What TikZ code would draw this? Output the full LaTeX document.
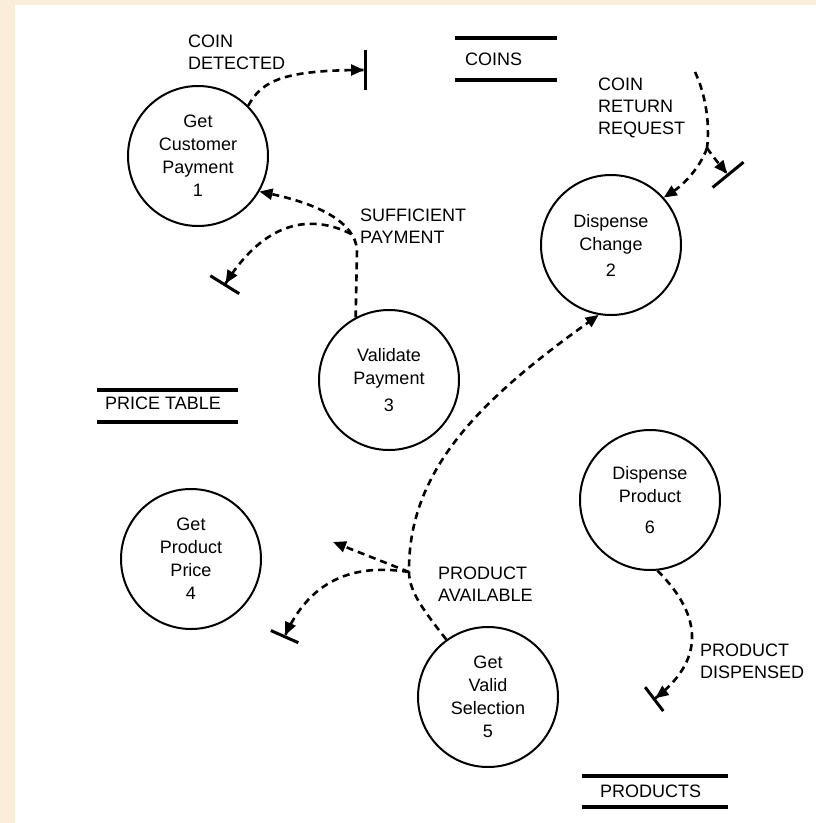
\documentclass[tikz,border=0pt]{standalone}
\usepackage{fontspec}
\setmainfont{Liberation Sans}
\usetikzlibrary{arrows.meta}
\definecolor{paper}{RGB}{250,238,218}
\begin{document}
\begin{tikzpicture}[x=1pt,y=-1pt,
  proc/.style={circle, draw, line width=2pt, minimum size=140pt, inner sep=0pt, align=center, font=\fontsize{18}{23}\selectfont},
  lbl/.style={anchor=west, align=left, inner sep=0pt, font=\fontsize{18}{22}\selectfont},
  conn/.style={line width=2.6pt, dash pattern=on 7pt off 5pt},
  flow/.style={conn, -{Triangle[length=13pt,width=11pt]}},
  flowbar/.style={conn, -{Triangle[length=13pt,width=11pt] Bar[width=#1, line width=3pt]}},
  flowbar/.default=36pt,
  store/.style={line width=3.5pt},
  storetext/.style={anchor=west, inner sep=0pt, font=\fontsize{18}{22}\selectfont}
]
\fill[paper] (0,0) rectangle (816,823);
\fill[white] (15,5) rectangle (816,823);
\useasboundingbox (0,0) rectangle (816,823);

% processes
\node[proc] (c1) at (198,156) {Get\\Customer\\Payment\\1};
\node[proc] (c2) at (611,245) {Dispense\\Change\\[3pt]2};
\node[proc] (c3) at (389,380) {Validate\\Payment\\[4pt]3};
\node[proc] (c4) at (191,559) {Get\\Product\\Price\\4};
\node[proc] (c5) at (488,697) {Get\\Valid\\Selection\\5};
\node[proc] (c6) at (650,500) {Dispense\\Product\\[8pt]6};

% stores
\draw[store] (455,38) -- (557,38);
\draw[store] (455,80) -- (557,80);
\node[storetext] (coins) at (465,59) {COINS};
\draw[store] (97,390) -- (238,390);
\draw[store] (97,422) -- (238,422);
\node[storetext] (price) at (105,403) {PRICE TABLE};
\draw[store] (582,776) -- (728,776);
\draw[store] (582,807) -- (728,807);
\node[storetext] (products) at (600,791) {PRODUCTS};

% coordinates
\coordinate (cd) at (367,70);
\coordinate (j1) at (357,250);
\coordinate (j2) at (351,234);
\coordinate (sp) at (224,286);
\coordinate (cr0) at (695,72);
\coordinate (crj) at (707,148);
\coordinate (cr2) at (729,176);
\coordinate (jp) at (409,572);
\coordinate (pa) at (333,542);
\coordinate (pb) at (284,638);
\coordinate (pd) at (653,700);

% flows
\draw[flowbar=40pt] (c1.45) .. controls (262,80) and (285,70) .. (cd);
\draw[flow] (c3.118) -- (j1) .. controls (355,222) and (318,204) .. (c1.-30);
\draw[flowbar=34pt] (j2) .. controls (320,218) and (270,212) .. (sp);
\draw[conn] (cr0) .. controls (706,95) and (710,125) .. (crj);
\draw[flow] (crj) .. controls (700,168) and (683,185) .. (c2.42);
\draw[flowbar=40pt] (crj) .. controls (713,157) and (720,165) .. (cr2);
\draw[flow] (c5.126) .. controls (425,612) and (409,592) .. (jp) .. controls (408,470) and (480,400) .. (c2.-100);
\draw[flow] (jp) -- (pa);
\draw[flowbar=30pt] (jp) .. controls (370,566) and (315,568) .. (pb);
\draw[flowbar=30pt] (c6.-84) .. controls (705,618) and (703,662) .. (pd);

% labels
\node[lbl] (lcd) at (188,52) {COIN\\DETECTED};
\node[lbl] (lsp) at (360,226) {SUFFICIENT\\PAYMENT};
\node[lbl] (lcr) at (598,108) {COIN\\RETURN\\REQUEST};
\node[lbl] (lpa) at (438,584) {PRODUCT\\AVAILABLE};
\node[lbl] (lpd) at (700,661) {PRODUCT\\DISPENSED};
\end{tikzpicture}
\end{document}
